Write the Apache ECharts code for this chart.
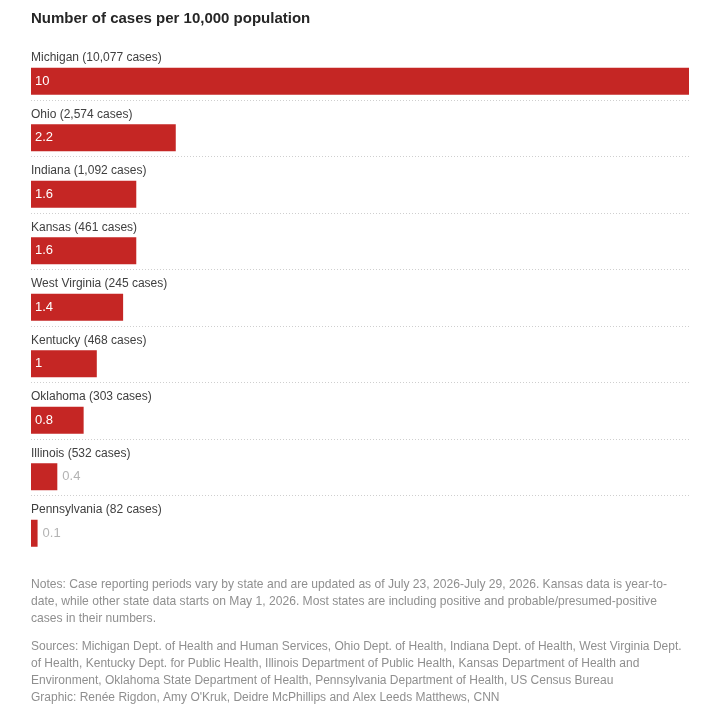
<!DOCTYPE html>
<html>
<head>
<meta charset="utf-8">
<script src="https://cdn.jsdelivr.net/npm/echarts@6/dist/echarts.min.js"></script>
<style>
html,body{margin:0;padding:0;background:#fff;}
#chart{width:707px;height:721px;}
</style>
</head>
<body>
<div id="chart"></div>
<script>
const states = ['Michigan','Ohio','Indiana','Kansas','West Virginia','Kentucky','Oklahoma','Illinois','Pennsylvania'];
const caseCounts = ['10,077','2,574','1,092','461','245','468','303','532','82'];
const ratePer10k = [10, 2.2, 1.6, 1.6, 1.4, 1, 0.8, 0.4, 0.1];

const titleText = 'Number of cases per 10,000 population';
const notesLines = [
  'Notes: Case reporting periods vary by state and are updated as of July 23, 2026-July 29, 2026. Kansas data is year-to-',
  'date, while other state data starts on May 1, 2026. Most states are including positive and probable/presumed-positive',
  'cases in their numbers.'
];
const sourceLines = [
  'Sources: Michigan Dept. of Health and Human Services, Ohio Dept. of Health, Indiana Dept. of Health, West Virginia Dept.',
  'of Health, Kentucky Dept. for Public Health, Illinois Department of Public Health, Kansas Department of Health and',
  'Environment, Oklahoma State Department of Health, Pennsylvania Department of Health, US Census Bureau',
  'Graphic: Renée Rigdon, Amy O\'Kruk, Deidre McPhillips and Alex Leeds Matthews, CNN'
];

const FONT = '"Liberation Sans", Arial, sans-serif';
const categories = states.map((s, i) => s + ' (' + caseCounts[i] + ' cases)');

const barData = ratePer10k.map(v => ({
  value: v,
  label: v < 0.5
    ? { position: 'right', color: '#b3b3b3', distance: 5 }
    : { position: 'insideLeft', color: '#ffffff', distance: 4 }
}));

const chart = echarts.init(document.getElementById('chart'), null, { renderer: 'canvas' });

const gridTop = 53;
const pitch = 56.5;
const gridH = pitch * states.length;

const textEls = [];
textEls.push({
  type: 'text', left: 31, top: 11,
  style: { text: titleText, font: 'bold 15px ' + FONT, fill: '#262626' }
});
notesLines.forEach((t, i) => textEls.push({
  type: 'text', left: 31, top: 579 + i * 17,
  style: { text: t, font: '12.1px ' + FONT, fill: '#8f8f8f' }
}));
sourceLines.forEach((t, i) => textEls.push({
  type: 'text', left: 31, top: 641 + i * 17,
  style: { text: t, font: '12px ' + FONT, fill: '#8f8f8f' }
}));

chart.setOption({
  animation: false,
  backgroundColor: '#ffffff',
  graphic: textEls,
  grid: [
    { left: 31, right: 18, top: gridTop, height: gridH },
    { left: 31, right: 18, top: gridTop - 9.5, height: gridH },
    { left: 31, right: 18, top: gridTop - 23.5, height: gridH }
  ],
  xAxis: [
    { type: 'value', gridIndex: 0, min: 0, max: 10, show: false },
    { type: 'value', gridIndex: 1, min: 0, max: 10, show: false },
    { type: 'value', gridIndex: 2, min: 0, max: 10, show: false }
  ],
  yAxis: [
    {
      type: 'category', gridIndex: 0, data: categories, inverse: true, show: false
    },
    {
      type: 'category', gridIndex: 1, data: categories, inverse: true,
      axisLine: { show: false }, axisTick: { show: false }, axisLabel: { show: false },
      splitLine: {
        show: true, showMinLine: false, showMaxLine: false,
        lineStyle: { color: '#cfcfcf', type: [1, 2], width: 1 }
      }
    },
    {
      type: 'category', gridIndex: 2, data: categories, inverse: true,
      axisLine: { show: false }, axisTick: { show: false }, splitLine: { show: false },
      axisLabel: {
        inside: true, margin: 0, align: 'left', verticalAlign: 'middle',
        fontFamily: FONT, fontSize: 12, color: '#404040'
      }
    }
  ],
  series: [{
    type: 'bar',
    xAxisIndex: 0, yAxisIndex: 0,
    data: barData,
    barWidth: 27,
    itemStyle: { color: '#c52624' },
    label: {
      show: true,
      fontFamily: FONT, fontSize: 13,
      formatter: p => String(p.value)
    }
  }]
});
</script>
</body>
</html>
